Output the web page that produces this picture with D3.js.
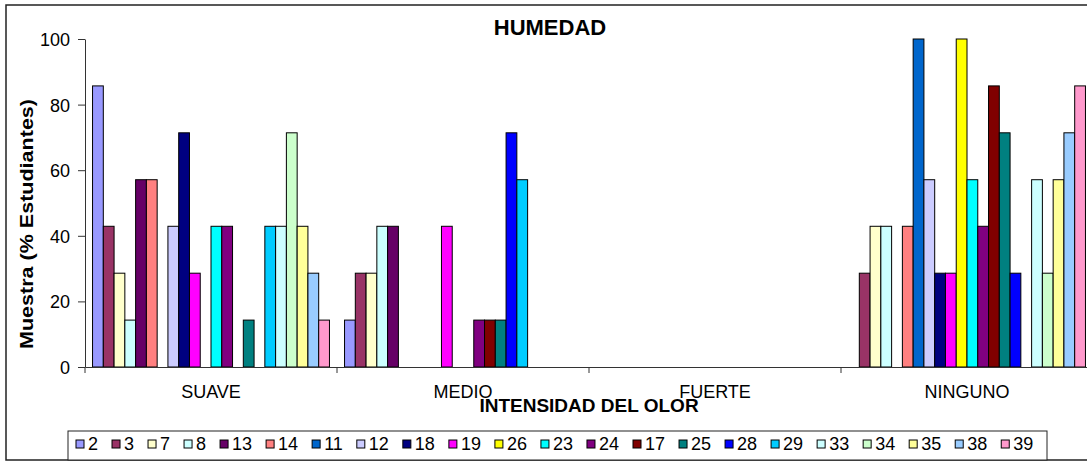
<!DOCTYPE html>
<html>
<head>
<meta charset="utf-8">
<script src="https://d3js.org/d3.v7.min.js"></script>
<style>
  body { margin: 0; background: #fff; }
  text { font-family: "Liberation Sans", Arial, sans-serif; fill: #000; }
  .axis path, .axis line { stroke: #333; stroke-width: 1px; }
</style>
</head>
<body>
<svg id="chart" width="1087" height="462"></svg>
<script>
// data
const categories = ["SUAVE", "MEDIO", "FUERTE", "NINGUNO"];
const seriesNames = ["2", "3", "7", "8", "13", "14", "11", "12", "18", "19", "26",
                     "23", "24", "17", "25", "28", "29", "33", "34", "35", "38", "39"];
const seriesColors = ["#9999FF", "#993366", "#FFFFCC", "#CCFFFF", "#660066", "#FF8080",
                      "#0066CC", "#CCCCFF", "#000080", "#FF00FF", "#FFFF00", "#00FFFF",
                      "#800080", "#800000", "#008080", "#0000FF", "#00CCFF", "#CCFFFF",
                      "#CCFFCC", "#FFFF99", "#99CCFF", "#FF99CC"];
//                2     3     7     8     13    14    11   12    18    19    26   23    24    17    25    28    29    33    34    35    38    39
const suave   = [85.7, 42.9, 28.6, 14.3, 57.1, 57.1, 0,   42.9, 71.4, 28.6, 0,   42.9, 42.9, 0,    14.3, 0,    42.9, 42.9, 71.4, 42.9, 28.6, 14.3];
const medio   = [14.3, 28.6, 28.6, 42.9, 42.9, 0,    0,   0,    0,    42.9, 0,   0,    14.3, 14.3, 14.3, 71.4, 57.1, 0,    0,    0,    0,    0];
const fuerte  = [0,    0,    0,    0,    0,    0,    0,   0,    0,    0,    0,   0,    0,    0,    0,    0,    0,    0,    0,    0,    0,    0];
const ninguno = [0,    28.6, 42.9, 42.9, 0,    42.9, 100, 57.1, 28.6, 28.6, 100, 57.1, 42.9, 85.7, 71.4, 28.6, 0,    57.1, 28.6, 57.1, 71.4, 85.7];
const yTicks = [0, 20, 40, 60, 80, 100];

const values = [suave, medio, fuerte, ninguno];

const svg = d3.select("#chart");

// chart border
svg.append("rect")
   .attr("x", 6).attr("y", 5)
   .attr("width", 1200).attr("height", 455)
   .attr("fill", "none").attr("stroke", "#222").attr("stroke-width", 1.5);

const plot = { left: 85, right: 1093, top: 39, bottom: 367 };

const x = d3.scaleBand().domain(categories).range([plot.left, plot.right]).padding(0);
const xs = d3.scaleBand().domain(seriesNames).range([0, x.bandwidth()])
             .paddingInner(0).paddingOuter(0.7);
const y = d3.scaleLinear().domain([0, 100]).range([plot.bottom, plot.top]);
const color = d3.scaleOrdinal().domain(seriesNames).range(seriesColors);

// bars
const bars = [];
categories.forEach((c, ci) => {
  seriesNames.forEach((s, si) => {
    if (values[ci][si] > 0) bars.push({ cat: c, name: s, value: values[ci][si] });
  });
});

svg.append("g").selectAll("rect").data(bars)
   .join("rect")
   .attr("x", d => x(d.cat) + xs(d.name))
   .attr("y", d => y(d.value))
   .attr("width", xs.bandwidth())
   .attr("height", d => y(0) - y(d.value))
   .attr("fill", d => color(d.name))
   .attr("stroke", "#000")
   .attr("stroke-width", 1);

// y axis
const yAxis = svg.append("g").attr("class", "axis")
   .attr("transform", `translate(${plot.left},0)`)
   .call(d3.axisLeft(y).tickValues(yTicks).tickSize(7).tickSizeOuter(0).tickPadding(8));
yAxis.selectAll("text").style("font-size", "18px").attr("dy", "0.36em");

// x axis
const xAxis = svg.append("g").attr("class", "axis")
   .attr("transform", `translate(0,${plot.bottom})`)
   .call(d3.axisBottom(x).tickSize(0).tickSizeOuter(0).tickFormat(""));
xAxis.selectAll("line.sep")
   .data(d3.range(categories.length + 1))
   .join("line")
   .attr("class", "sep")
   .attr("x1", i => plot.left + i * x.step())
   .attr("x2", i => plot.left + i * x.step())
   .attr("y1", 0).attr("y2", 6)
   .attr("stroke", "#333");

svg.append("g").selectAll("text").data(categories)
   .join("text")
   .attr("x", d => x(d) + x.bandwidth() / 2)
   .attr("y", 398)
   .attr("text-anchor", "middle")
   .style("font-size", "18px")
   .text(d => d);

// titles
svg.append("text")
   .attr("x", 550).attr("y", 35)
   .attr("text-anchor", "middle")
   .style("font-size", "22px").style("font-weight", "700")
   .text("HUMEDAD");

svg.append("text")
   .attr("x", (plot.left + plot.right) / 2).attr("y", 412)
   .attr("text-anchor", "middle")
   .style("font-size", "19px").style("font-weight", "700")
   .text("INTENSIDAD DEL OLOR");

svg.append("text")
   .attr("transform", "translate(33,224) rotate(-90)")
   .attr("text-anchor", "middle")
   .attr("textLength", 250).attr("lengthAdjust", "spacingAndGlyphs")
   .style("font-size", "19px").style("font-weight", "700")
   .text("Muestra (% Estudiantes)");

// legend
const legend = svg.append("g");
legend.append("rect")
   .attr("x", 68).attr("y", 431)
   .attr("width", 1047 - 68).attr("height", 29)
   .attr("fill", "#fff").attr("stroke", "#222").attr("stroke-width", 1);

let lx = 76;
seriesNames.forEach((s, i) => {
  legend.append("rect")
     .attr("x", lx).attr("y", 440)
     .attr("width", 8).attr("height", 8)
     .attr("fill", color(s)).attr("stroke", "#000").attr("stroke-width", 1);
  const t = legend.append("text")
     .attr("x", lx + 12).attr("y", 450)
     .style("font-size", "18px")
     .text(s);
  lx += 12 + t.node().getComputedTextLength() + 14;
});
</script>
</body>
</html>
